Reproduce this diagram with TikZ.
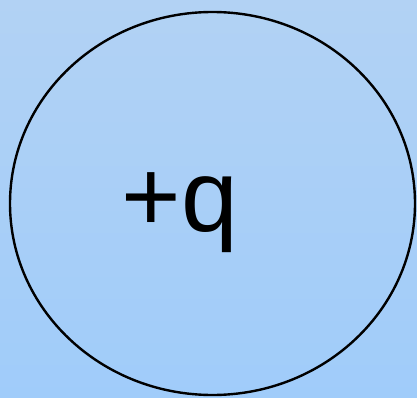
\documentclass[tikz,border=0pt]{standalone}
\usepackage{fontspec}
\setmainfont{Liberation Sans}
\definecolor{bgtop}{HTML}{B2D2F4}
\definecolor{bgbot}{HTML}{A0CCFA}
\begin{document}
\begin{tikzpicture}[x=1pt,y=-1pt,
  sphere/.style={draw=black,line width=2.4pt},
  charge/.style={font=\fontsize{102}{102}\selectfont,inner sep=0pt,anchor=base}]
\shade[top color=bgtop,bottom color=bgbot] (0,0) rectangle (417,398);
\useasboundingbox (0,0) rectangle (417,398);
\draw[sphere] (212.5,203.5) ellipse [x radius=202.5,y radius=191.5];
\node[charge] (q) at (180,231) {+q};
\end{tikzpicture}
\end{document}
